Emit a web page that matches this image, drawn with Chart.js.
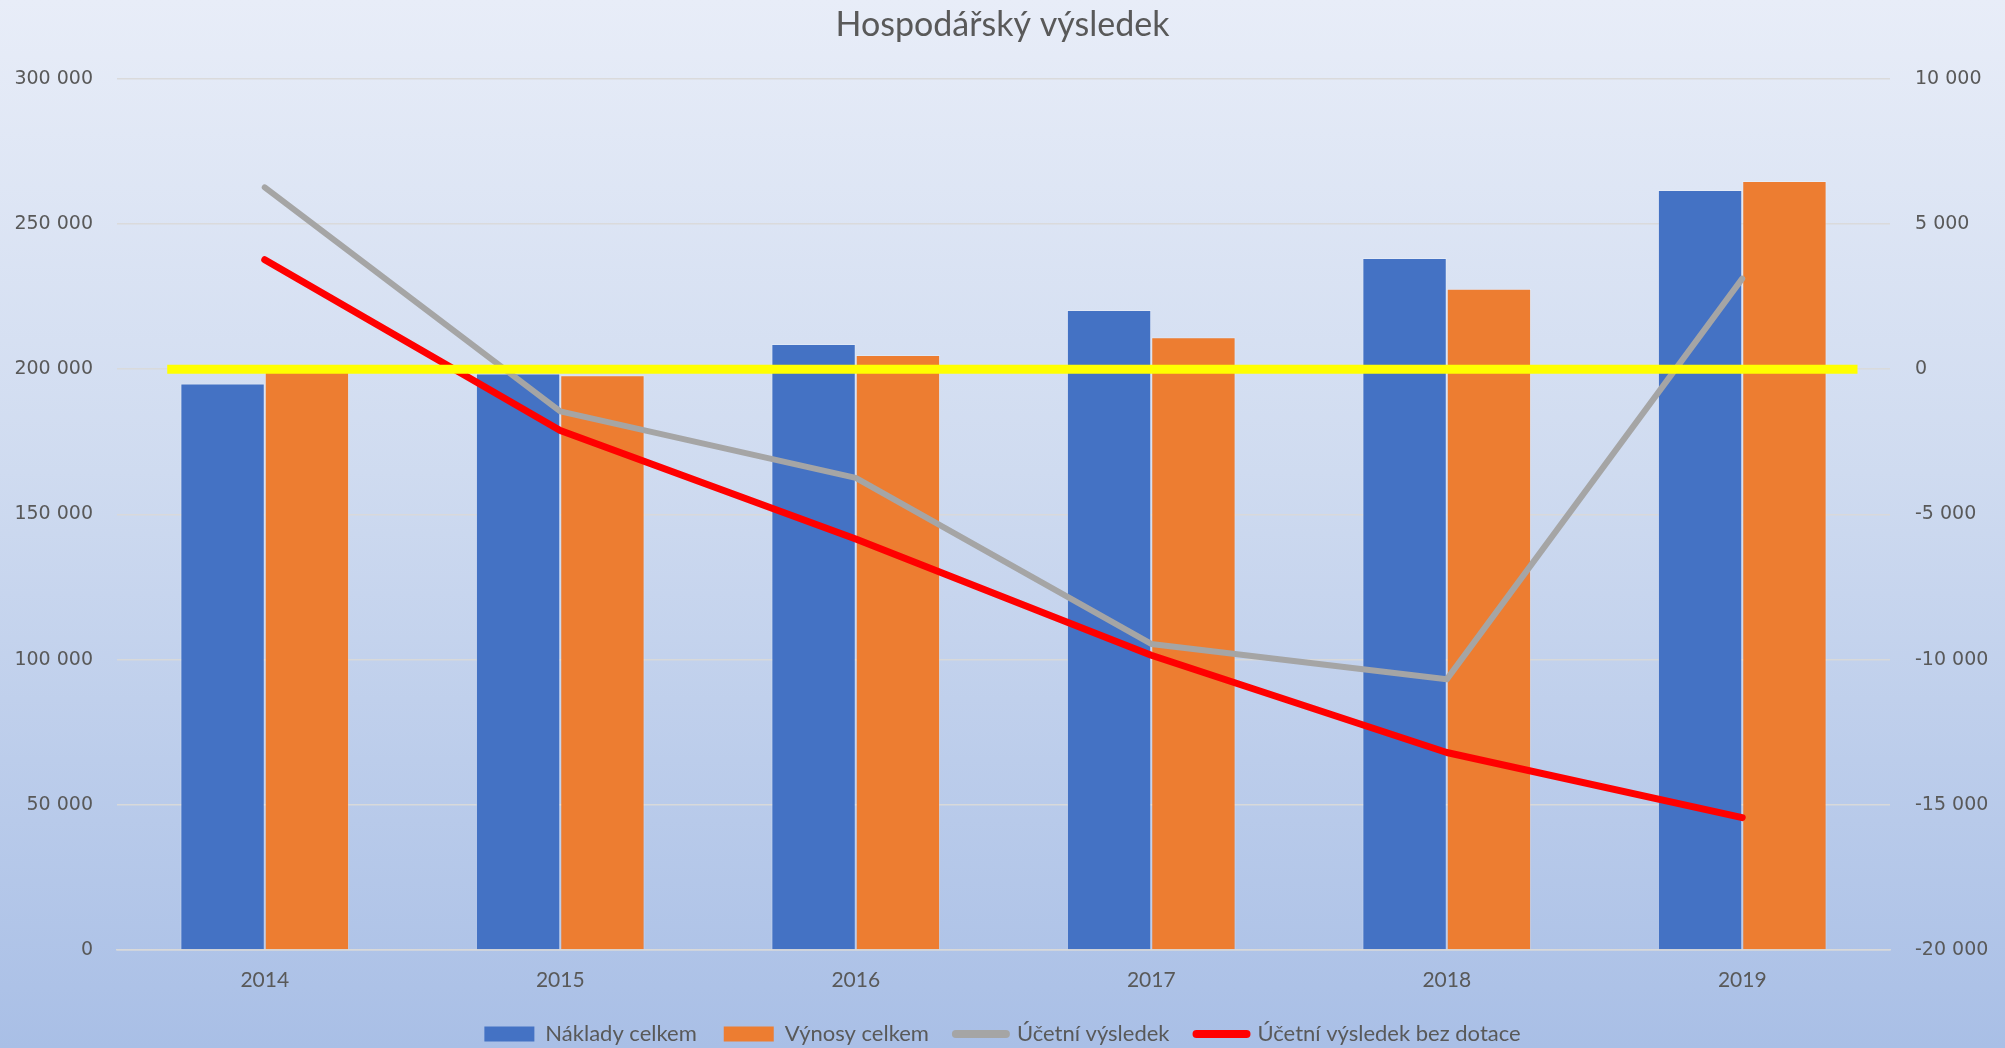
<!DOCTYPE html>
<html lang="cs">
<head>
<meta charset="utf-8">
<title>Hospodářský výsledek</title>
<script src="https://cdn.jsdelivr.net/npm/chart.js@4/dist/chart.umd.min.js"></script>
<style>
  html, body { margin: 0; padding: 0; }
  body {
    width: 2005px;
    height: 1048px;
    background: linear-gradient(to bottom, #e8edf8 0%, #cfdbf0 45%, #a9bfe6 100%);
    overflow: hidden;
  }
  #box { width: 2005px; height: 1048px; position: relative; }
</style>
</head>
<body>
<div id="box"><canvas id="myChart" width="2005" height="1048"></canvas></div>
<script>
// hodnoty
const roky = ['2014', '2015', '2016', '2017', '2018', '2019'];
const nakladyCelkem = [195100, 198500, 208700, 220400, 238300, 261700];
const vynosyCelkem = [201300, 197900, 204900, 211000, 227700, 264800];
const ucetniVysledek = [6260, -1450, -3740, -9460, -10680, 3120];
const vysledekBezDotace = [3770, -2110, -5850, -9850, -13200, -15440];
// žlutá nulová čára na pravé ose (od / do, v indexech kategorií)
const nulovaCaraX = [-0.33, 5.39];
const nulovaCaraY = 0;
const levaOsaTicks = [0, 50000, 100000, 150000, 200000, 250000, 300000];
const pravaOsaTicks = [-20000, -15000, -10000, -5000, 0, 5000, 10000];

function cislo(v) {
    const s = Math.abs(v).toString().replace(/\B(?=(\d{3})+(?!\d))/g, ' ');
    return (v < 0 ? '-' : '') + s;
}

const sedaText = '#595959';

// žlutá čára přes graf, kreslí se nad vším
const nulovaCara = {
    id: 'nulovaCara',
    afterDatasetsDraw(chart) {
        const x = chart.scales.x;
        const y1 = chart.scales.y1;
        const c = chart.ctx;
        const py = y1.getPixelForValue(nulovaCaraY);
        c.save();
        c.strokeStyle = '#ffff00';
        c.lineWidth = 9;
        c.beginPath();
        c.moveTo(x.getPixelForValue(nulovaCaraX[0]), py);
        c.lineTo(x.getPixelForValue(nulovaCaraX[1]), py);
        c.stroke();
        c.restore();
    }
};

const ctx = document.getElementById('myChart').getContext('2d');
new Chart(ctx, {
    type: 'bar',
    data: {
        labels: roky,
        datasets: [
            {
                label: 'Náklady celkem',
                data: nakladyCelkem,
                backgroundColor: '#4472c4',
                borderColor: 'rgba(255,255,255,0.25)',
                borderWidth: 1,
                categoryPercentage: 0.571,
                barPercentage: 1.0,
                yAxisID: 'y',
                order: 3
            },
            {
                label: 'Výnosy celkem',
                data: vynosyCelkem,
                backgroundColor: '#ed7d31',
                borderColor: 'rgba(255,255,255,0.25)',
                borderWidth: 1,
                categoryPercentage: 0.571,
                barPercentage: 1.0,
                yAxisID: 'y',
                order: 3
            },
            {
                type: 'line',
                label: 'Účetní výsledek',
                data: ucetniVysledek,
                borderColor: '#a5a5a5',
                backgroundColor: '#a5a5a5',
                borderWidth: 6,
                borderCapStyle: 'round',
                borderJoinStyle: 'round',
                pointRadius: 0,
                yAxisID: 'y1',
                order: 1
            },
            {
                type: 'line',
                label: 'Účetní výsledek bez dotace',
                data: vysledekBezDotace,
                borderColor: '#ff0000',
                backgroundColor: '#ff0000',
                borderWidth: 7,
                borderCapStyle: 'round',
                borderJoinStyle: 'round',
                pointRadius: 0,
                yAxisID: 'y1',
                order: 1
            }
        ]
    },
    plugins: [nulovaCara],
    options: {
        responsive: false,
        animation: false,
        layout: { padding: { left: 0, right: 0, top: 0, bottom: -7 } },
        plugins: {
            title: {
                display: true,
                text: 'Hospodářský výsledek',
                color: sedaText,
                font: { family: 'Lato', size: 34, weight: 'normal' },
                padding: { top: 5, bottom: 33 }
            },
            legend: {
                display: true,
                position: 'bottom',
                labels: {
                    color: sedaText,
                    font: { family: 'Lato', size: 22 },
                    usePointStyle: true,
                    pointStyleWidth: 50,
                    boxHeight: 15,
                    padding: 27,
                    generateLabels: function (chart) {
                        return chart.data.datasets.map((ds, i) => {
                            const jeCara = ds.type === 'line';
                            return {
                                text: ds.label,
                                fillStyle: jeCara ? ds.borderColor : ds.backgroundColor,
                                strokeStyle: jeCara ? ds.borderColor : ds.backgroundColor,
                                lineWidth: jeCara ? 8 : 0,
                                lineCap: 'round',
                                pointStyle: jeCara ? 'line' : 'rect',
                                fontColor: sedaText,
                                hidden: false,
                                datasetIndex: i
                            };
                        });
                    }
                }
            },
            tooltip: { enabled: false }
        },
        scales: {
            x: {
                afterFit: s => { s.height = 46; },
                grid: { display: false, drawTicks: false },
                border: { display: true, color: '#d9d9d9', width: 1.5 },
                ticks: {
                    color: sedaText,
                    font: { family: 'Lato', size: 21 },
                    padding: 18,
                    maxRotation: 0
                }
            },
            y: {
                position: 'left',
                min: 0,
                max: 300000,
                afterBuildTicks: s => { s.ticks = levaOsaTicks.map(v => ({ value: v })); },
                afterFit: s => { s.width = 117; },
                grid: { color: 'rgba(217,217,217,0.95)', lineWidth: 1.5, drawTicks: false },
                border: { display: false },
                ticks: {
                    color: sedaText,
                    font: { family: 'DejaVu Sans', size: 19 },
                    padding: 24,
                    callback: v => cislo(v)
                }
            },
            y1: {
                position: 'right',
                min: -20000,
                max: 10000,
                afterBuildTicks: s => { s.ticks = pravaOsaTicks.map(v => ({ value: v })); },
                afterFit: s => { s.width = 115; },
                grid: { display: false, drawTicks: false },
                border: { display: false },
                ticks: {
                    color: sedaText,
                    font: { family: 'DejaVu Sans', size: 19 },
                    padding: 25,
                    callback: v => cislo(v)
                }
            }
        }
    }
});
</script>
</body>
</html>
